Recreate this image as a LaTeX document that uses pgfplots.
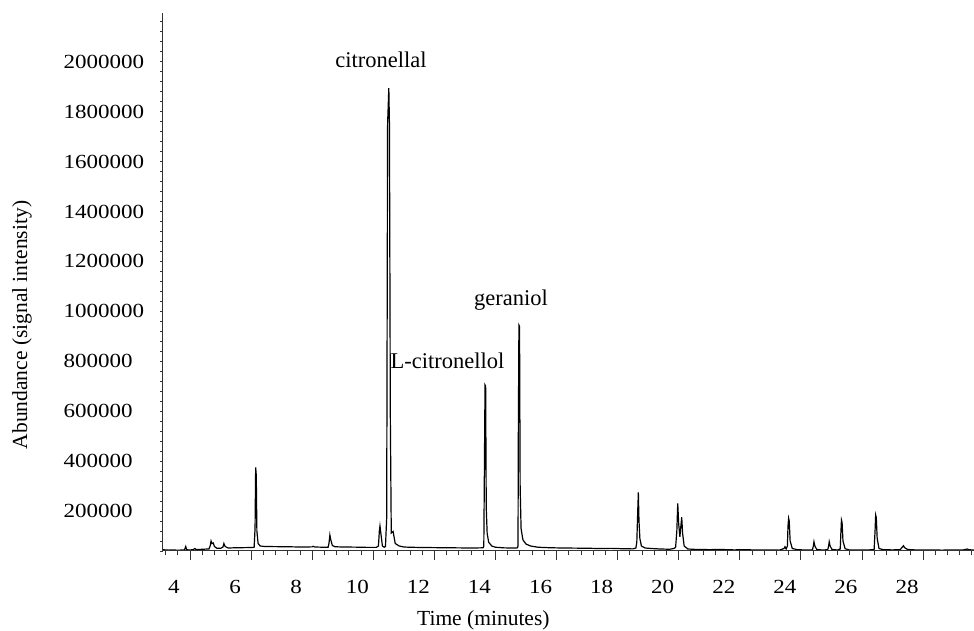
\documentclass[border=0pt]{standalone}
\usepackage{fontspec}
\setmainfont{Liberation Serif}
\newfontfamily\tickfont{Liberation Serif}[FakeStretch=1.15]
\usepackage{pgfplots}
\pgfplotsset{compat=1.18}

\begin{document}
\begin{tikzpicture}
% main axis: y axis, trace and peak names
\begin{axis}[
  at={(0,0)}, anchor=south west,
  scale only axis, width=811pt, height=538pt,
  xmin=3.116, xmax=29.67, ymin=40000, ymax=2195000,
  axis lines*=left,
  axis line style={-, black!80, line width=1pt},
  xtick=\empty,
  ytick={200000,400000,600000,800000,1000000,1200000,1400000,1600000,1800000,2000000},
  minor ytick={40000,80000,120000,160000,240000,280000,320000,360000,440000,480000,520000,560000,
    640000,680000,720000,760000,840000,880000,920000,960000,1040000,1080000,1120000,1160000,
    1240000,1280000,1320000,1360000,1440000,1480000,1520000,1560000,1640000,1680000,1720000,1760000,
    1840000,1880000,1920000,1960000,2040000,2080000,2120000,2160000},
  tick align=outside, major tick length=3pt, minor tick length=3pt,
  tick style={black!80, line width=0.8pt},
  scaled y ticks=false,
  /pgf/number format/assume math mode=true,
  yticklabel style={font=\fontsize{20}{23}\tickfont, anchor=west, xshift=-100pt,
    /pgf/number format/fixed, /pgf/number format/1000 sep={}},
  ylabel={Abundance (signal intensity)},
  ylabel style={font=\fontsize{21.5}{24}\selectfont, at={(axis description cs:-0.174,0.42)}, anchor=center},
]
\addplot[black, line width=1.2pt] coordinates {
(3.12,45000) (3.3,43500) (3.45,44500) (3.6,43000) (3.75,44000)
(3.82,44500) (3.86,58000) (3.89,46000) (3.95,44000)
(4.1,45000) (4.16,50000) (4.2,45500) (4.35,46500) (4.5,47500) (4.62,48000)
(4.66,60000) (4.69,80000) (4.72,70000) (4.76,72000) (4.8,58000) (4.88,51000)
(5.0,50500) (5.08,56000) (5.11,70000) (5.15,58000) (5.25,52000) (5.5,53000) (5.8,53500) (6.05,54000)
(6.1,55000) (6.13,130000) (6.15,375000) (6.17,344000) (6.19,120000) (6.23,70000) (6.3,60000) (6.45,58000)
(6.8,57500) (7.2,57000) (7.6,56000) (8.0,56500) (8.03,59000) (8.08,56000) (8.4,55000) (8.52,54500)
(8.55,70000) (8.58,104000) (8.61,85000) (8.66,62000) (8.75,57000) (9.0,56000) (9.4,55500) (9.8,54500) (10.1,54500)
(10.17,60000) (10.2,120000) (10.22,140000) (10.25,110000) (10.3,60000) (10.36,55000)
(10.40,58000) (10.44,172000) (10.47,1751000) (10.51,1894000) (10.53,1751000) (10.56,569000) (10.59,112000)
(10.65,118000) (10.72,70000) (10.85,60000) (11.0,56000)
(11.2,55000) (11.6,54000) (12.0,53500) (12.4,53000) (12.8,52500) (13.2,52000) (13.5,52500) (13.6,53000)
(13.62,60000) (13.64,376000) (13.66,705000) (13.68,700000) (13.70,212000) (13.73,110000) (13.78,75000) (13.88,60000)
(14.0,55000) (14.3,52500) (14.6,52000) (14.72,52500)
(14.74,60000) (14.75,497000) (14.77,945000) (14.79,940000) (14.81,296000) (14.84,130000) (14.9,85000) (15.0,68000)
(15.15,60000) (15.4,55000) (15.8,53000) (16.2,52000) (16.6,51500) (17.0,51000) (17.4,50000) (17.8,50500)
(18.2,49000) (18.5,48500) (18.6,52000)
(18.63,77000) (18.66,200000) (18.68,275000) (18.70,164000) (18.73,90000) (18.78,60000) (18.9,52000)
(19.1,50000) (19.4,48000) (19.7,47000) (19.85,50000)
(19.9,55000) (19.94,120000) (19.97,231000) (20.0,150000) (20.04,97000) (20.08,150000) (20.10,175000) (20.13,110000)
(20.18,60000) (20.3,48000) (20.6,46000) (21.0,45500) (21.4,46000) (21.8,44500) (22.2,45000) (22.6,44000)
(23.0,44500) (23.3,43500) (23.45,50000) (23.48,57000) (23.52,48000)
(23.56,60000) (23.58,140000) (23.60,171000) (23.62,160000) (23.65,80000) (23.72,50000) (23.9,45000)
(24.2,44000) (24.38,44500) (24.41,60000) (24.43,77000) (24.46,60000) (24.52,46000) (24.7,44000)
(24.88,45000) (24.91,60000) (24.93,77000) (24.96,60000) (25.02,46000) (25.2,44000) (25.29,48000)
(25.31,110000) (25.33,164000) (25.35,155000) (25.38,80000) (25.45,49000) (25.6,44000) (25.9,44500)
(26.2,44000) (26.4,46000) (26.43,120000) (26.45,184000) (26.47,175000) (26.5,90000) (26.56,50000)
(26.7,45000) (27.0,44500) (27.25,45000) (27.32,55000) (27.36,61000) (27.4,53000) (27.5,46000)
(27.8,44000) (28.2,44500) (28.6,43500) (29.0,44000) (29.3,43800) (29.45,48000) (29.5,45000) (29.67,44000)
};
\node[font=\fontsize{22.5}{25}\selectfont, anchor=base] at (axis cs:10.25,1975000) {citronellal};
\node[font=\fontsize{22.5}{25}\selectfont, anchor=base] at (axis cs:14.51,1022000) {geraniol};
\node[font=\fontsize{22.5}{25}\selectfont, anchor=base] at (axis cs:12.43,772000) {L-citronellol};
\end{axis}
% second axis: x ticks only
\begin{axis}[
  at={(0,0)}, anchor=south west,
  scale only axis, width=811pt, height=538pt,
  xmin=3.116, xmax=29.67, ymin=0, ymax=1,
  axis x line*=bottom, hide y axis,
  axis line style={-, black!80, line width=1pt},
  xtick={4,6,8,10,12,14,16,18,20,22,24,26,28},
  minor xtick={3.2,3.6,4.4,4.8,5.2,5.6,6.4,6.8,7.2,7.6,8.4,8.8,9.2,9.6,10.4,10.8,11.2,11.6,
    12.4,12.8,13.2,13.6,14.4,14.8,15.2,15.6,16.4,16.8,17.2,17.6,18.4,18.8,19.2,19.6,
    20.4,20.8,21.2,21.6,22.4,22.8,23.2,23.6,24.4,24.8,25.2,25.6,26.4,26.8,27.2,27.6,
    28.4,28.8,29.2,29.6},
  tick align=outside, major tick length=9pt, minor tick length=4.5pt,
  tick style={black!80, line width=0.8pt},
  /pgf/number format/assume math mode=true,
  xticklabel style={font=\fontsize{20}{23}\tickfont, xshift=-16pt, yshift=-17pt},
  xlabel={Time (minutes)},
  xlabel style={font=\fontsize{21.5}{24}\selectfont, at={(axis description cs:0.395,-0.128)}, anchor=center},
]
\end{axis}
\pgfresetboundingbox
\path[use as bounding box] (-163pt,-80pt) rectangle (811pt,551pt);
\end{tikzpicture}
\end{document}
